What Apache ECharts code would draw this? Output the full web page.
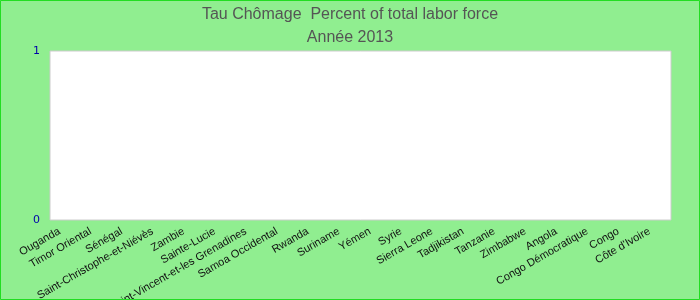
<!DOCTYPE html>
<html><head><meta charset="utf-8">
<style>html,body{margin:0;padding:0;background:#90EE90}#c{width:700px;height:300px}</style>
<script src="https://cdn.jsdelivr.net/npm/echarts@6/dist/echarts.min.js"></script>
</head><body><div id="c"></div>
<script>
const categories = ["Ouganda","Timor Oriental","Sénégal","Saint-Christophe-et-Niévès","Zambie","Sainte-Lucie","Saint-Vincent-et-les Grenadines","Samoa Occidental","Rwanda","Suriname","Yémen","Syrie","Sierra Leone","Tadjikistan","Tanzanie","Zimbabwe","Angola","Congo Démocratique","Congo","Côte d'Ivoire"];
const values = [0,0,0,0,0,0,0,0,0,0,0,0,0,0,0,0,0,0,0,0];
const yTicks = [0, 1];
const chart = echarts.init(document.getElementById('c'), null, {renderer:'canvas'});
chart.setOption({
  backgroundColor: '#90EE90',
  animation: false,
  title: {
    text: 'Tau Chômage  Percent of total labor force',
    subtext: 'Année 2013',
    left: 'center', top: 2, itemGap: 7,
    textStyle: {fontFamily: 'Liberation Sans', fontSize: 16, fontWeight: 'normal', color: '#555'},
    subtextStyle: {fontFamily: 'Liberation Sans', fontSize: 16, color: '#555'}
  },
  graphic: [{type:'rect', shape:{x:0.5,y:0.5,width:699,height:299}, style:{fill:'none', stroke:'#22dd22', lineWidth:1}, silent:true, z:100}],
  grid: {left: 50, right: 29, top: 51, bottom: 80, show: true, backgroundColor: '#fff', borderColor: '#ccc', borderWidth: 1, containLabel: false, outerBoundsMode: 'none'},
  xAxis: {
    type: 'category', data: categories,
    axisLine: {show: false}, axisTick: {show: false},
    axisLabel: {interval: 0, rotate: 30, fontFamily: 'Liberation Sans', fontSize: 11, color: '#111', margin: 7, padding: [0, 7, 0, 0]}
  },
  yAxis: {
    type: 'value', min: yTicks[0], max: yTicks[yTicks.length-1], interval: 1,
    axisLine: {show: false}, axisTick: {show: false}, splitLine: {show: false},
    axisLabel: {fontFamily: 'DejaVu Sans', fontSize: 11, color: '#0000aa', margin: 10}
  },
  series: [{type: 'bar', data: values, itemStyle: {color: '#4472c4'}}]
});
</script></body></html>
